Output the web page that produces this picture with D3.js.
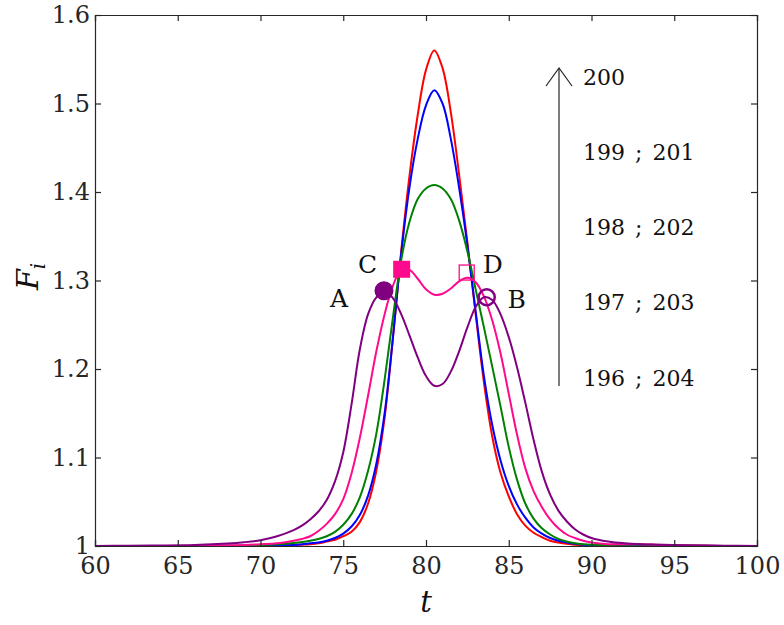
<!DOCTYPE html>
<html>
<head>
<meta charset="utf-8">
<script src="https://cdn.jsdelivr.net/npm/d3@7"></script>
<style>
html,body{margin:0;padding:0;background:#fff;}
svg{display:block;}
</style>
</head>
<body>
<svg id="chart" width="784" height="625"></svg>
<script>
const tValues = [60, 62, 64, 66, 68, 69, 70, 71, 72, 72.5, 73, 73.5, 74, 74.5, 75, 75.5, 76, 76.5, 77, 77.5, 78, 78.5, 79, 79.5, 80, 80.5, 81, 81.5, 82, 82.5, 83, 83.5, 84, 84.5, 85, 85.5, 86, 86.5, 87, 87.5, 88, 88.5, 89, 89.5, 90, 91, 92, 93, 94, 95, 96, 98, 100];

const seriesNames = ["200", "199 ; 201", "198 ; 202", "197 ; 203", "196 ; 204"];
const seriesColors = ["#ff0000", "#0000ff", "#008000", "#ff0a8c", "#800080"];

const red = [1.0, 1.0, 1.0, 1.0, 1.0, 1.0, 1.0002, 1.0005, 1.001, 1.0015, 1.002, 1.003, 1.005, 1.007, 1.011, 1.016, 1.027, 1.048, 1.085, 1.145, 1.235, 1.333, 1.418, 1.487, 1.538, 1.56, 1.54, 1.49, 1.42, 1.343, 1.262, 1.185, 1.124, 1.083, 1.056, 1.036, 1.023, 1.015, 1.01, 1.006, 1.004, 1.0025, 1.0015, 1.001, 1.0008, 1.0008, 1.001, 1.001, 1.0008, 1.0005, 1.0003, 1.0, 1.0];
const blue = [1.0, 1.0, 1.0, 1.0, 1.0, 1.0, 1.0003, 1.0007, 1.0012, 1.002, 1.003, 1.004, 1.006, 1.009, 1.014, 1.022, 1.035, 1.057, 1.093, 1.15, 1.235, 1.33, 1.405, 1.46, 1.498, 1.515, 1.5, 1.46, 1.405, 1.34, 1.265, 1.192, 1.137, 1.097, 1.068, 1.047, 1.032, 1.021, 1.014, 1.009, 1.006, 1.004, 1.0025, 1.0015, 1.001, 1.001, 1.0012, 1.0012, 1.001, 1.0007, 1.0004, 1.0, 1.0];
const green = [1.0, 1.0, 1.0, 1.0001, 1.0003, 1.0006, 1.001, 1.002, 1.0035, 1.0045, 1.006, 1.008, 1.011, 1.016, 1.024, 1.036, 1.055, 1.085, 1.127, 1.188, 1.258, 1.323, 1.366, 1.392, 1.404, 1.408, 1.404, 1.392, 1.368, 1.333, 1.29, 1.247, 1.203, 1.158, 1.112, 1.075, 1.048, 1.031, 1.02, 1.013, 1.008, 1.005, 1.003, 1.002, 1.0015, 1.0012, 1.0015, 1.0015, 1.0012, 1.0008, 1.0005, 1.0, 1.0];
const pink = [1.0, 1.0, 1.0, 1.0003, 1.0008, 1.0012, 1.002, 1.003, 1.006, 1.008, 1.011, 1.017, 1.025, 1.036, 1.053, 1.082, 1.122, 1.17, 1.22, 1.262, 1.294, 1.312, 1.312, 1.302, 1.29, 1.284, 1.285, 1.291, 1.299, 1.303, 1.298, 1.282, 1.255, 1.218, 1.172, 1.126, 1.088, 1.062, 1.044, 1.03, 1.02, 1.013, 1.009, 1.006, 1.004, 1.002, 1.002, 1.002, 1.0015, 1.001, 1.0006, 1.0, 1.0];
const purple = [1.0, 1.0003, 1.0006, 1.0012, 1.0028, 1.0042, 1.0065, 1.011, 1.018, 1.023, 1.03, 1.039, 1.052, 1.073, 1.106, 1.16, 1.222, 1.262, 1.281, 1.288, 1.28, 1.262, 1.238, 1.213, 1.192, 1.181, 1.183, 1.197, 1.22, 1.247, 1.27, 1.281, 1.278, 1.262, 1.236, 1.202, 1.162, 1.12, 1.084, 1.058, 1.04, 1.028, 1.019, 1.013, 1.009, 1.005, 1.003, 1.002, 1.0015, 1.001, 1.0007, 1.0003, 1.0];

const xTicks = [60, 65, 70, 75, 80, 85, 90, 95, 100];
const yTicks = [1, 1.1, 1.2, 1.3, 1.4, 1.5, 1.6];
const yTickLabels = ["1", "1.1", "1.2", "1.3", "1.4", "1.5", "1.6"];

const markerLabels = ["A", "B", "C", "D"];
const markerT = [77.46, 83.67, 78.53, 82.46];
const markerF = [1.2885, 1.281, 1.3127, 1.309];

const allSeries = [red, blue, green, pink, purple];

const svg = d3.select("#chart");
const L = 95, R = 757, T = 15, B = 546;
const x = d3.scaleLinear().domain([60, 100]).range([L, R]);
const y = d3.scaleLinear().domain([1, 1.6]).range([B, T]);
const axisColor = "#262626";
const fontFam = "'DejaVu Serif', serif";

svg.append("defs").append("clipPath").attr("id", "clip")
  .append("rect").attr("x", L).attr("y", T - 2).attr("width", R - L).attr("height", B - T + 4);

const line = d3.line().x((d, i) => x(tValues[i])).y(d => y(d)).curve(d3.curveCatmullRom.alpha(0.5));
const g = svg.append("g").attr("clip-path", "url(#clip)");
allSeries.forEach((s, k) => {
  g.append("path").attr("d", line(s)).attr("fill", "none")
    .attr("stroke", seriesColors[k]).attr("stroke-width", 2);
});

// axes
const xb = svg.append("g").attr("transform", `translate(0,${B})`)
  .call(d3.axisBottom(x).tickValues(xTicks).tickSize(-6).tickPadding(11).tickFormat(d3.format("d")));
const xt = svg.append("g").attr("transform", `translate(0,${T})`)
  .call(d3.axisTop(x).tickValues(xTicks).tickSize(-6).tickFormat(""));
const yl = svg.append("g").attr("transform", `translate(${L},0)`)
  .call(d3.axisLeft(y).tickValues(yTicks).tickSize(-6).tickPadding(5).tickFormat((d, i) => yTickLabels[i]));
const yr = svg.append("g").attr("transform", `translate(${R},0)`)
  .call(d3.axisRight(y).tickValues(yTicks).tickSize(-6).tickFormat(""));
[xb, xt, yl, yr].forEach(a => {
  a.selectAll("path.domain").attr("stroke", axisColor).attr("stroke-width", 1.2);
  a.selectAll(".tick line").attr("stroke", axisColor).attr("stroke-width", 1.2);
  a.selectAll(".tick text").attr("fill", axisColor).style("font-family", fontFam).style("font-size", "24px");
});

// markers
const mk = svg.append("g");
mk.append("circle").attr("cx", x(markerT[0])).attr("cy", y(markerF[0])).attr("r", 9.5).attr("fill", "#800080");
mk.append("circle").attr("cx", x(markerT[1])).attr("cy", y(markerF[1])).attr("r", 8).attr("fill", "none").attr("stroke", "#800080").attr("stroke-width", 2.5);
mk.append("rect").attr("x", x(markerT[2]) - 8.5).attr("y", y(markerF[2]) - 8.5).attr("width", 17).attr("height", 17).attr("fill", "#ff0a8c");
mk.append("rect").attr("x", x(markerT[3]) - 7.5).attr("y", y(markerF[3]) - 7.5).attr("width", 15).attr("height", 15).attr("fill", "none").attr("stroke", "#ff0a8c").attr("stroke-width", 1.3);

const labelDx = [-45, 30, -34, 26];
const labelDy = [16, 10.5, 4, 0.5];
markerLabels.forEach((lab, i) => {
  svg.append("text").attr("x", x(markerT[i]) + labelDx[i]).attr("y", y(markerF[i]) + labelDy[i])
    .attr("text-anchor", "middle").style("font-family", fontFam).style("font-size", "25px")
    .attr("fill", "#111").text(lab);
});

// arrow annotation
const ax = 559;
svg.append("line").attr("x1", ax).attr("x2", ax).attr("y1", 386).attr("y2", 68)
  .attr("stroke", axisColor).attr("stroke-width", 1.2);
svg.append("path").attr("d", `M${ax - 13},${86} L${ax},${68} L${ax + 13},${86}`)
  .attr("fill", "none").attr("stroke", axisColor).attr("stroke-width", 1.2);
const annY = [85, 160, 235, 310, 386];
seriesNames.forEach((s, i) => {
  svg.append("text").attr("x", 583).attr("y", annY[i])
    .style("font-family", fontFam).style("font-size", "22px").style("word-spacing", "3px")
    .attr("fill", "#111").text(s);
});

// axis labels
svg.append("text").attr("x", x(80)).attr("y", 612).attr("text-anchor", "middle")
  .style("font-family", fontFam).style("font-size", "29px").style("font-style", "italic").attr("fill", "#111").text("t");
const yLab = svg.append("text").attr("transform", `translate(38,${y(1.3) - 4}) rotate(-90)`).attr("text-anchor", "middle")
  .style("font-family", fontFam).style("font-size", "30px").style("font-style", "italic").attr("fill", "#111");
yLab.append("tspan").text("F");
yLab.append("tspan").attr("dy", 7).style("font-size", "20px").text("i");
</script>
</body>
</html>
